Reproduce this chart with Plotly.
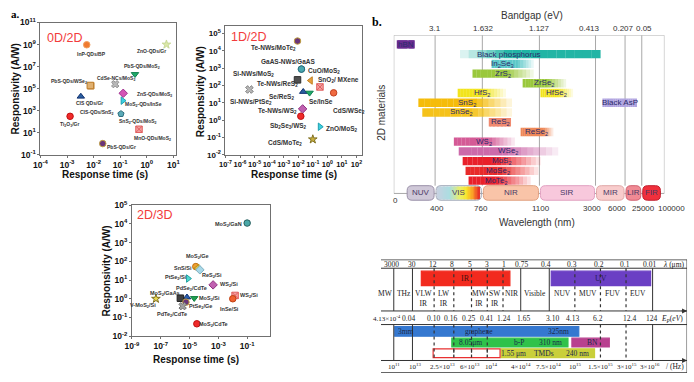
import numpy as np
import plotly.graph_objects as go

W, H = 694, 382

# ======================= DATA =======================
# ---- a. 0D/2D ----
a1_names = ["InP-QDs/BP", "ZnO-QDs/Gr", "PbS-QDs/MoS<sub>2</sub>", "CdSe-NCs/MoS<sub>2</sub>",
            "PbS-QDs/WSe<sub>2</sub>", "CIS-QDs/SnS<sub>2</sub>", "ZnS-QDs/MoS<sub>2</sub>", "CIS QDs/Gr",
            "MoS<sub>2</sub>-QDs/InSe", "SnS<sub>2</sub>-QDs/MoS<sub>2</sub>", "Ti<sub>2</sub>O<sub>3</sub>/Gr",
            "MnO-QDs/MoS<sub>2</sub>", "PbS-QDs/Gr"]
a1_time = [0.0055, 5.5, 0.36, 0.065, 0.0078, 0.0075, 0.13, 0.0033, 0.125, 0.107, 0.0013, 0.51, 0.022]
a1_resp = [9.5e8, 1.0e9, 2.0e6, 2.5e5, 1.8e5, 1.9e5, 3.7e4, 1.9e4, 8.0e3, 5.0e2, 3.0e2, 20, 1.0]

# ---- a. 1D/2D ----
a2_names = ["Te-NWs/MoTe<sub>2</sub>", "GaAS-NWs/GaAS", "CuO/MoS<sub>2</sub>", "Si-NWs/MoS<sub>2</sub>",
            "Te-NWs/ReS<sub>2</sub>", "SnO<sub>2</sub>/ MXene", "", "Si-NWs/PtSe<sub>2</sub>",
            "Se/ReS<sub>2</sub>", "Se/InSe", "CdS/WSe<sub>2</sub>", "Te-NWs/WS<sub>2</sub>",
            "Sb<sub>2</sub>Se<sub>3</sub>/WS<sub>2</sub>", "ZnO/MoS<sub>2</sub>", "CdS/MoTe<sub>2</sub>"]
a2_time = [0.0089, 0.0166, 0.0166, 4.4e-6, 0.0089, 0.071, 0.31, 4.4e-6, 0.022, 0.06, 2.7, 0.02, 0.015, 0.31, 0.10]
a2_resp = [3.7e4, 890, 890, 59, 213, 195, 83, 59, 44, 38, 38, 4.5, 1.7, 0.42, 0.079]

# ---- a. 2D/3D ----
a3_names = ["MoS<sub>2</sub>/GaN", "MoS<sub>2</sub>/Ge", "SnS/Si", "ReS<sub>2</sub>/Si", "PtSe<sub>2</sub>/Si",
            "WS<sub>2</sub>/Si", "PdSe<sub>2</sub>/CdTe", "MoS<sub>2</sub>/GaAs", "MoS<sub>2</sub>/Si",
            "WS<sub>2</sub>/Si", "V-MoS<sub>2</sub>/Si", "PtSe<sub>2</sub>/Ge", "InSe/Si",
            "PdTe<sub>2</sub>/CdTe", "MoS<sub>2</sub>/CdTe"]
a3_time = [0.1, 2.7e-5, 3.5e-5, 5.2e-5, 8e-6, 4.3e-4, 6.6e-6, 2.3e-6, 2.1e-5, 0.0145, 4.6e-8, 5.6e-6, 0.01, 3.3e-6, 3.2e-5]
a3_resp = [1.1e4, 52, 43, 35, 12, 5.5, 1.2, 1.07, 1.07, 1.5, 1.0, 0.66, 1.0, 0.4, 0.046]

# ---- b. bandgap / wavelength bars (nm) ----
bt_names = ["hBN", "Black phosphorus", "In<sub>2</sub>Se<sub>3</sub>", "ZrS<sub>2</sub>", "ZrSe<sub>2</sub>",
            "HfS<sub>2</sub>", "HfSe<sub>2</sub>", "SnS<sub>2</sub>", "SnSe<sub>2</sub>", "Black AsP",
            "ReS<sub>2</sub>", "ReSe<sub>2</sub>", "WS<sub>2</sub>", "WSe<sub>2</sub>", "MoS<sub>2</sub>",
            "MoSe<sub>2</sub>", "MoTe<sub>2</sub>"]
bt_nm_lo = [30, 590, 815, 685, 1000, 572, 1135, 238, 276, 3700, 801, 988, 543, 580, 610, 632, 655]
bt_nm_hi = [200, 3500, 1065, 1065, 2000, 900, 2235, 936, 936, 19400, 930, 1567, 953, 1733, 1133, 1093, 1047]
bt_row = [0, 1, 2, 3, 4, 5, 5, 6, 7, 6, 8, 9, 10, 11, 12, 13, 14]

wl_ticks = [0, 400, 760, 1100, 3000, 6000, 25000, 100000]
eg_ticks = ["3.1", "1.632", "1.127", "0.413", "0.207", "0.05"]
reg_names = ["NUV", "VIS", "NIR", "SIR", "MIR", "LIR", "FIR"]
reg_lo = [120, 400, 760, 1100, 3000, 6000, 25000]
reg_hi = [400, 760, 1100, 3000, 6000, 25000, 90000]

# ---- b. spectrum table (bottom right) ----
lam_text = ["3000", "30", "12", "8", "5", "3", "1", "0.75", "0.4", "0.3", "0.2", "0.1", "0.01"]
ep_text = ["4.13×10<sup>-4</sup>", "0.04", "0.10", "0.16", "0.25", "0.41", "1.24", "1.65", "3.10",
           "4.13", "6.2", "12.4", "124"]
fq_text = ["10<sup>11</sup>", "10<sup>13</sup>", "2.5×10<sup>13</sup>", "6×10<sup>13</sup>", "10<sup>14</sup>",
           "4×10<sup>14</sup>", "7.5×10<sup>14</sup>", "10<sup>15</sup>", "1.5×10<sup>15</sup>",
           "3×10<sup>15</sup>", "3×10<sup>16</sup>"]
band_text = ["MW", "THz", "VLW<br>IR", "LW<br>IR", "MW<br>IR", "SW<br>IR", "NIR", "Visible",
             "NUV", "MUV", "FUV", "EUV"]
bb_names = ["IR", "UV", "graphene", "b-P", "BN", "TMDs", "window"]
bb_lo = [41, 173, 14, 72, 194, 122, 53]
bb_hi = [131, 274, 201, 190, 232, 217, 121]
bb_texts = [("3mm", 25, 74), ("graphene", 100, 74), ("325nm", 180, 74),
            ("8.05μm", 91, 85.5), ("b-P", 140, 85.5), ("310 nm", 172, 85.5), ("BN", 215, 85.5),
            ("1.55 μm", 135, 96.5), ("TMDs", 166, 96.5), ("240 nm", 200, 96.5)]

# ======================= STYLE / LAYOUT =======================
SANS = "Liberation Sans"
SERIF = "Liberation Serif"

a1_sym = ['circle', 'star', 'triangle-down', 'x', 'square', 'square', 'diamond', 'triangle-up',
          'triangle-right', 'pentagon', 'circle', 'square-x', 'circle']
a1_col = ['#f07a30', '#dbe9a8', '#1faa6a', '#b8b8b8', '#d9a860', '#e0b070', '#d455b5', '#2a5fa0',
          '#3cd0e0', '#5aaab8', '#f02a2a', '#f4a0a0', '#6a3478']
a1_lin = ['#f0a060', '#c8d898', '#108050', '#909090', '#c08030', '#c08030', '#a03090', '#103070',
          '#20a0b0', '#307080', '#c01010', '#e06060', '#c0a040']
a1_off = [(5, 9.3), (-14.5, 6.7), (7.5, -7.3), (0.5, -6), (-22, -4.4), (6.4, 27), (31.7, 0.7),
          (8.3, 6.6), (20.3, 4.3), (16.8, 7.3), (-0.5, 8), (13.2, 9), (18.7, 3.3)]

a2_sym = ['circle', 'circle', 'circle', 'x', 'square', 'triangle-left', 'square-x', 'x', 'triangle-up',
          'triangle-down', 'circle', 'diamond', 'circle', 'triangle-right', 'star']
a2_col = ['#6a3478', '#4aa8b0', '#4aa8b0', '#b8b8b8', '#505050', '#e8a040', '#f4a0a0', '#b8b8b8',
          '#2a5fa0', '#1faa6a', '#f06a40', '#c060b0', '#f02a2a', '#3cd0e0', '#c8b040']
a2_lin = ['#c0a040', '#2a7080', '#2a7080', '#909090', '#303030', '#c08020', '#e06060', '#909090',
          '#103070', '#108050', '#c04020', '#903080', '#c01010', '#20a0b0', '#807020']
a2_off = [(-24, 6.7), (-13, -7.7), (23, 1.7), (4, -15.3), (-20, 4), (27.7, -1), (0, 0), (2, 12.3),
          (-21.7, 5), (11.7, 9), (15.3, 18.4), (-25, 2.3), (-12.3, 10), (21.8, 2.4), (-27.7, 3.7)]

a3_sym = ['circle', 'circle', 'triangle-left', 'diamond', 'triangle-right', 'diamond', 'triangle-up',
          'square', 'triangle-down', 'square-x', 'star', 'circle', 'circle', 'x', 'circle']
a3_col = ['#4aa8a8', '#f0a030', '#e8c040', '#a8d8e8', '#50d8d0', '#c060b0', '#2a5fb0', '#404040',
          '#20a050', '#f4a0a0', '#e8d850', '#6a3478', '#f06030', '#a0a0a0', '#f02a2a']
a3_lin = ['#2a6060', '#c07010', '#b09020', '#80b0c0', '#20a0a0', '#903080', '#103070', '#202020',
          '#108040', '#e06060', '#807020', '#c0a040', '#c04010', '#707070', '#c01010']
a3_off = [(-18.5, 1), (1.3, -10), (-14.3, 0), (12.5, 5.6), (-12.5, -0.7), (16.2, 0), (4.8, -9),
          (-15.5, -5), (15.5, 0), (13.8, 0), (-13, 6.6), (14.3, 4), (-2.8, 10.3), (-10.3, 8), (16.3, 1)]

# b-top styling
tick_pos = [0, 42, 90, 148, 205, 235, 252, 275]   # axis positions of the wavelength anchors
wl_lab_dx = [2, 2, -1, 2, -4, -8, 2, 7]           # label nudges (px)
eg_lab_dx = [0, 1, 0, -6, -2, 2]
bt_col = ['#6a2c91', '#22b5a5', '#5cc8c8', '#9ac83c', '#9ac83c', '#f2e41c', '#f2e41c', '#f5bc0a',
          '#f5c21a', '#b0a4e0', '#f08a70', '#ee8858', '#d45a96', '#cc6aaa', '#e8202a', '#e82a2a', '#e8202a']
bt_fade = [('none', 1), ('left', 0.35), ('right', 0.6), ('right', 0.55), ('right', 0.55), ('right', 0.5),
           ('right', 0.5), ('right', 0.6), ('right', 0.55), ('none', 1), ('none', 1), ('right', 0.7),
           ('right', 0.55), ('right', 0.45), ('right', 0.45), ('right', 0.45), ('right', 0.45)]
bt_ldx = [0, -21, -10, 0, 0, 0, 0, 2, -6, 0, 0, 0, 0, 0, 0, -4, -3]
reg_fill = ['#cfc8d8', None, '#f9c4a8', '#f8c8dc', '#f8cccc', '#f08a94', '#f0303c']
reg_line = ['#9a90a8', '#a0a8b8', '#e0a080', '#e0a0c0', '#e0a8a8', '#d06070', '#c02030']


def to_pos(nm):
    return np.interp(nm, wl_ticks, tick_pos)


def row_of(py):  # pixel row -> y4 units (layout helper)
    return (py - 39.5) / 10.02


def hex2rgb(h):
    h = h.lstrip('#')
    return tuple(int(h[i:i + 2], 16) for i in (0, 2, 4))


def dom_x(p0, p1):
    return [p0 / W, p1 / W]


def dom_y(top, bot):
    return [1 - bot / H, 1 - top / H]


fig = go.Figure()
annotations = []
shapes = []
layout_axes = {}


def log_panel(n, xdom, ydom, xr, yr, xexp, yexp, names, t, r, sym, col, lin, off, lfs, tfs, xtfs):
    sfx = '' if n == 1 else str(n)
    common = dict(type='log', showline=True, mirror=True, linecolor='#707070', linewidth=1,
                  ticks='outside', ticklen=2, tickcolor='#707070', showgrid=False, zeroline=False,
                  tickangle=0)
    layout_axes['xaxis' + sfx] = dict(domain=xdom, range=xr, anchor='y' + sfx,
                                      tickvals=[10.0 ** e for e in xexp],
                                      ticktext=[f'10<sup>{e}</sup>' for e in xexp],
                                      tickfont=dict(family=SANS, size=xtfs, color='#111', weight='bold'),
                                      **common)
    layout_axes['yaxis' + sfx] = dict(domain=ydom, range=yr, anchor='x' + sfx,
                                      tickvals=[10.0 ** e for e in yexp],
                                      ticktext=[f'10<sup>{e}</sup>' for e in yexp],
                                      tickfont=dict(family=SANS, size=tfs, color='#111', weight='bold'),
                                      **common)
    fig.add_trace(go.Scatter(x=t, y=r, mode='markers', xaxis='x' + sfx, yaxis='y' + sfx,
                             marker=dict(symbol=sym, color=col, size=6.5,
                                         line=dict(color=lin, width=1)),
                             hoverinfo='skip', showlegend=False))
    for i, nm in enumerate(names):
        if not nm:
            continue
        annotations.append(dict(x=np.log10(t[i]), y=np.log10(r[i]), xref='x' + sfx, yref='y' + sfx,
                                text=nm, showarrow=False, xshift=off[i][0], yshift=-off[i][1],
                                font=dict(family=SANS, size=lfs, color='#333', weight='bold')))


log_panel(1, dom_x(34, 172), dom_y(17, 153), [-4, 1.11], [-1, 11], list(range(-4, 2)),
          list(range(-1, 12, 2)), a1_names, a1_time, a1_resp, a1_sym, a1_col, a1_lin, a1_off, 5, 8.5, 8.5)
log_panel(2, dom_x(222, 361), dom_y(20.7, 153.3), [-7, 2.4], [-2, 5.43], list(range(-7, 3)),
          list(range(-2, 6)), a2_names, a2_time, a2_resp, a2_sym, a2_col, a2_lin, a2_off, 6.5, 8, 7.5)
log_panel(3, dom_x(127, 267), dom_y(205, 340), [-9, 0.57], [-2, 5], list(range(-9, 0, 2)),
          list(range(-2, 6)), a3_names, a3_time, a3_resp, a3_sym, a3_col, a3_lin, a3_off, 5.5, 8.5, 8.5)


def paper_text(txt, px, py, size, color='#111', angle=0, family=SANS, weight='normal', xanchor='center'):
    annotations.append(dict(x=px / W, y=1 - py / H, xref='paper', yref='paper', text=txt,
                            showarrow=False, textangle=angle, xanchor=xanchor, yanchor='middle',
                            font=dict(family=family, size=size, color=color, weight=weight)))


# panel titles / axis titles
for (tx, x, y) in [("0D/2D", 58, 33), ("1D/2D", 245, 32), ("2D/3D", 150, 215)]:
    paper_text(tx, x, y, 12.5, '#f23c3c')
for (x, y) in [(9, 85), (197, 88), (101, 273)]:
    paper_text("<b>Responsivity (A/W)</b>", x, y, 10, '#111', angle=-90)
for (x, y) in [(100, 174), (292, 174), (192, 364)]:
    paper_text("<b>Response time (s)</b>", x, y, 10, '#111')
paper_text("<b>a.</b>", 9, 8, 11, '#000', family=SERIF)
paper_text("<b>b.</b>", 376, 16, 12, '#000', family=SERIF)

# ---------------- b-top: bars ----------------
layout_axes['xaxis4'] = dict(domain=dom_x(393, 668), range=[0, 275], anchor='y4', showgrid=False,
                             zeroline=False, showline=False, ticks='', showticklabels=False)
layout_axes['yaxis4'] = dict(domain=dom_y(30, 201), range=[row_of(201), row_of(30)], visible=False,
                             anchor='x4')
# wavelength (bottom) and bandgap (top) scale labels, placed at the axis anchors
for i, (p, v) in enumerate(zip(tick_pos, wl_ticks)):
    annotations.append(dict(x=p, y=1 - (200 if v == 0 else 209) / H, xref='x4', yref='paper', text=str(v),
                            showarrow=False, xshift=wl_lab_dx[i], yanchor='middle',
                            font=dict(family=SANS, size=8, color='#333')))
for i, (p, lab) in enumerate(zip(tick_pos[1:-1], eg_ticks)):
    annotations.append(dict(x=p, y=1 - 23 / H, xref='x4', yref='paper', text=lab,
                            showarrow=False, xshift=eg_lab_dx[i], yanchor='middle',
                            font=dict(family=SANS, size=8, color='#333')))

ytop, ybot_frame, box_top, box_bot = row_of(30), row_of(193), row_of(185), row_of(200)
shapes.append(dict(type='rect', xref='x4', yref='y4', x0=0, x1=275, y0=ytop, y1=ybot_frame,
                   line=dict(color='#a8a8a8', width=1), layer='below'))
for p in tick_pos[1:-1]:
    shapes.append(dict(type='line', xref='x4', yref='y4', x0=p, x1=p, y0=ytop, y1=box_top,
                       line=dict(color='#a8a8a8', width=1), layer='below'))

N = 16
sy, sb, sl, sc = [], [], [], []
for i in range(len(bt_names)):
    p0, p1 = to_pos(bt_nm_lo[i]), to_pos(bt_nm_hi[i])
    edges = np.linspace(p0, p1, N + 1)
    d, s = bt_fade[i]
    r, g, b = hex2rgb(bt_col[i])
    for k in range(N):
        t = (k + 0.5) / N
        if d == 'right' and t > s:
            a = 1 - 0.92 * (t - s) / (1 - s)
        elif d == 'left' and t < s:
            a = 0.08 + 0.92 * t / s
        else:
            a = 1.0
        sy.append(bt_row[i])
        sb.append(edges[k])
        sl.append(edges[k + 1] - edges[k] + 0.15)
        sc.append(f'rgba({r},{g},{b},{a:.3f})')
    annotations.append(dict(x=(p0 + p1) / 2, y=bt_row[i], xref='x4', yref='y4', text=bt_names[i],
                            showarrow=False, xshift=bt_ldx[i],
                            font=dict(family=SANS, size=8, color='#2b2b6b')))
fig.add_trace(go.Bar(y=sy, x=sl, base=sb, orientation='h', width=0.86, xaxis='x4', yaxis='y4',
                     marker=dict(color=sc, line=dict(width=0)), hoverinfo='skip', showlegend=False))

# VIS gradient
stops = [(0, (200, 210, 225)), (0.3, (170, 222, 226)), (0.55, (236, 240, 100)), (0.7, (250, 228, 40)),
         (0.85, (250, 150, 40)), (1.0, (230, 40, 40))]
v0, v1 = to_pos(400) + 1, to_pos(760) - 1
M = 30
vedges = np.linspace(v0 + 1.5, v1 - 1.5, M + 1)
vcols = []
for k in range(M):
    t = (k + 0.5) / M
    c = [np.interp(t, [s_[0] for s_ in stops], [s_[1][j] for s_ in stops]) for j in range(3)]
    vcols.append(f'rgb({int(c[0])},{int(c[1])},{int(c[2])})')
fig.add_trace(go.Bar(y=[(box_top + box_bot) / 2] * M, x=np.diff(vedges) + 0.2, base=vedges[:-1],
                     orientation='h', width=(box_bot - box_top) - 0.15, xaxis='x4', yaxis='y4',
                     marker=dict(color=vcols, line=dict(width=0)), hoverinfo='skip', showlegend=False))


def rrect(x0, x1, y0, y1, rx=5, ry=0.5):
    return (f"M {x0 + rx},{y0} L {x1 - rx},{y0} Q {x1},{y0} {x1},{y0 + ry} L {x1},{y1 - ry} "
            f"Q {x1},{y1} {x1 - rx},{y1} L {x0 + rx},{y1} Q {x0},{y1} {x0},{y1 - ry} L {x0},{y0 + ry} "
            f"Q {x0},{y0} {x0 + rx},{y0} Z")


for i, nm in enumerate(reg_names):
    x0, x1 = to_pos(reg_lo[i]) + 1, to_pos(reg_hi[i]) - 1
    shapes.append(dict(type='path', xref='x4', yref='y4', path=rrect(x0, x1, box_top, box_bot),
                       fillcolor=reg_fill[i] if reg_fill[i] else 'rgba(0,0,0,0)',
                       line=dict(color=reg_line[i], width=1), layer='above' if reg_fill[i] is None else 'below'))
    annotations.append(dict(x=(x0 + x1) / 2, y=(box_top + box_bot) / 2, xref='x4', yref='y4', text=nm,
                            showarrow=False, font=dict(family=SANS, size=8, color='#4a3a66')))

paper_text("Bandgap (eV)", 533, 10, 10, '#333')
paper_text("Wavelength (nm)", 539, 223, 10, '#333')
paper_text("2D materials", 381, 110, 10, '#333', angle=-90)

# ---------------- b-bottom: spectrum table ----------------
layout_axes['xaxis6'] = dict(domain=dom_x(380, 691), range=[0, 311], visible=False, anchor='y6')
layout_axes['yaxis6'] = dict(domain=dom_y(261, 378), range=[117, 0], visible=False, anchor='x6')

lam_at = [11, 32, 53, 72, 90, 108, 125, 143, 168, 194, 222, 248, 273]
ep_at = [11, 28, 53, 71, 89, 107, 125, 145, 174, 195, 221, 253, 275]
fq_at = [13, 35, 63, 90, 112, 142, 170, 197, 223, 250, 273]
band_at = [5, 23, 43, 64, 100, 116, 133, 156, 184, 210, 236, 261]
bb_row = [19.5, 19.5, 74, 85.5, 85.5, 96.5, 96.5]
bb_h = [15, 15, 10, 9, 9, 9, 9]
bb_fill = ['#f22a1e', '#6b3fc4', '#3578d0', '#2fc24a', '#b8408f', '#c9cf3a', '#ffffff']
bb_edge = ['#f22a1e', '#6b3fc4', '#3578d0', '#2fc24a', '#b8408f', '#c9cf3a', '#e83030']

LC = '#333333'
for yy, lw in [(0, 1.5), (9, 1), (53, 1), (67, 1), (104, 1), (117, 1.5)]:
    shapes.append(dict(type='line', xref='x6', yref='y6', x0=0, x1=311, y0=yy, y1=yy,
                       line=dict(color=LC, width=lw)))
shapes.append(dict(type='line', xref='x6', yref='y6', x0=311, x1=311, y0=0, y1=117, line=dict(color=LC, width=1)))
for xs in [13, 32, 142, 171, 276]:
    shapes.append(dict(type='line', xref='x6', yref='y6', x0=xs, x1=xs, y0=9, y1=53, line=dict(color=LC, width=1)))
for xs in [54, 74, 92, 108, 124, 197, 223, 249]:
    shapes.append(dict(type='line', xref='x6', yref='y6', x0=xs, x1=xs, y0=9, y1=53,
                       line=dict(color=LC, width=1.2, dash='dot')))
for xs in [13, 32, 276]:
    shapes.append(dict(type='line', xref='x6', yref='y6', x0=xs, x1=xs, y0=67, y1=104, line=dict(color=LC, width=1)))
for xs in [54, 74, 92, 108, 223, 249]:
    shapes.append(dict(type='line', xref='x6', yref='y6', x0=xs, x1=xs, y0=67, y1=104,
                       line=dict(color=LC, width=1.2, dash='dot')))

fig.add_trace(go.Bar(y=bb_row, x=[h - l for l, h in zip(bb_lo, bb_hi)], base=bb_lo, orientation='h',
                     width=bb_h, xaxis='x6', yaxis='y6',
                     marker=dict(color=bb_fill, line=dict(color=bb_edge, width=1.2)),
                     hoverinfo='skip', showlegend=False))
for xs in [74, 92, 108]:
    shapes.append(dict(type='line', xref='x6', yref='y6', x0=xs, x1=xs, y0=93, y1=100,
                       line=dict(color=LC, width=1.2, dash='dot'), layer='above'))


def t6(txt, x, y, size=7.5, color='#222', xanchor='center'):
    annotations.append(dict(x=x, y=y, xref='x6', yref='y6', text=txt, showarrow=False, xanchor=xanchor,
                            font=dict(family=SERIF, size=size, color=color)))


for txt, x in zip(lam_text, lam_at):
    t6(txt, x, 5)
t6("<i>λ</i> (μm)", 297, 5)
for i, (txt, x) in enumerate(zip(ep_text, ep_at)):
    if i == 0:
        t6(txt, 22, 61, size=7, xanchor='right')
    else:
        t6(txt, x, 61)
t6("<i>E<sub>P</sub></i>(<i>eV</i>)", 296, 61)
for txt, x in zip(fq_text, fq_at):
    t6(txt, x, 110, size=7)
t6("/ (Hz)", 299, 110)
for txt, x in zip(band_text, band_at):
    t6(txt, x, 40 if '<br>' in txt else 35, size=7.5)
for i, nm in enumerate(bb_names[:2]):
    t6(nm, (bb_lo[i] + bb_hi[i]) / 2, bb_row[i], size=8, color='#4a1010' if nm == 'IR' else '#2a1a5a')
for txt, x, y in bb_texts:
    t6(txt, x, y, size=7.5, color='#1a2a4a')
for yy in [53, 104]:
    annotations.append(dict(x=311, y=yy, xref='x6', yref='y6', ax=-7, ay=0, text='', showarrow=True,
                            arrowhead=2, arrowsize=1, arrowwidth=1, arrowcolor=LC))

fig.update_layout(width=W, height=H, margin=dict(l=0, r=0, t=0, b=0), paper_bgcolor='white',
                  plot_bgcolor='rgba(0,0,0,0)', barmode='overlay', showlegend=False, hovermode=False,
                  font=dict(family=SANS), annotations=annotations, shapes=shapes, **layout_axes)
fig.write_html("out.html", config={'displayModeBar': False},
               post_script="document.body.style.margin='0px';document.body.style.padding='0px';")
